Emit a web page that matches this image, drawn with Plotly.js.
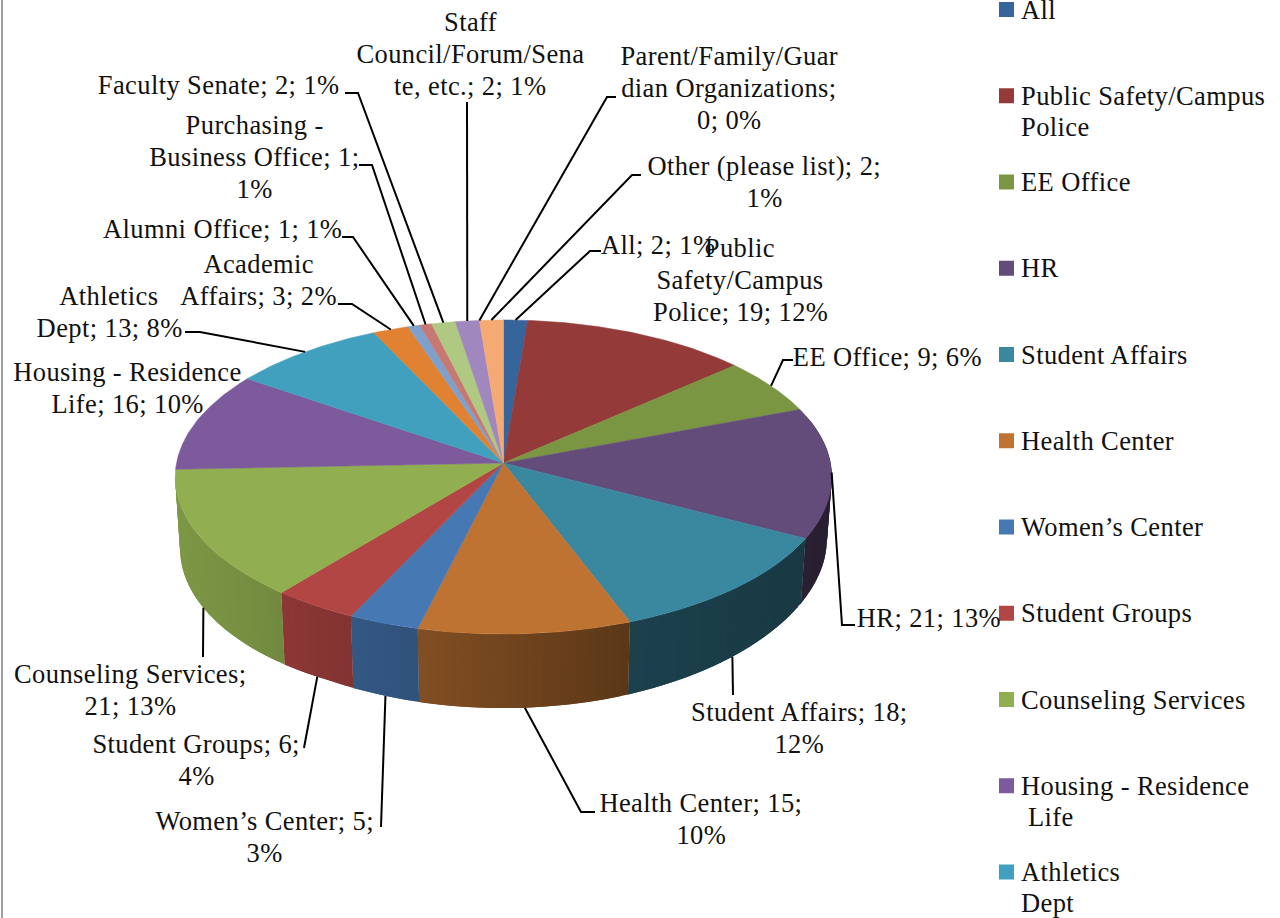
<!DOCTYPE html>
<html><head><meta charset="utf-8">
<script src="https://cdn.plot.ly/plotly-3.0.1.min.js"></script>
<style>
html,body{margin:0;padding:0;background:#fff;overflow:hidden}
#chart{width:1280px;height:918px}
.annotation text{letter-spacing:0.4px}
</style></head><body><div id="chart"></div>
<script>
// ---------- data ----------
const categories = ["All","Public Safety/Campus Police","EE Office","HR","Student Affairs","Health Center","Women’s Center","Student Groups","Counseling Services","Housing - Residence Life","Athletics Dept","Academic Affairs","Alumni Office","Purchasing - Business Office","Faculty Senate","Staff Council/Forum/Senate, etc.","Parent/Family/Guardian Organizations","Other (please list)"];
const values = [2,19,9,21,18,15,5,6,21,16,13,3,1,1,2,2,0,2];
const colors = ["#36659c","#943b39","#7a9643","#634b7a","#3a87a0","#be7332","#4678b4","#b24644","#91af50","#7d5a9b","#41a0be","#e18232","#7da0cd","#c87873","#afc882","#a087be","#6eb9cd","#f5aa73"];
const legendNames = ["All","Public Safety/Campus<br>Police","EE Office","HR","Student Affairs","Health Center","Women’s Center","Student Groups","Counseling Services","Housing - Residence<br>\u00a0Life","Athletics<br>Dept"];
const labelTexts = ["All; 2; 1%","Public<br>Safety/Campus<br>Police; 19; 12%","EE Office; 9; 6%","HR; 21; 13%","Student Affairs; 18;<br>12%","Health Center; 15;<br>10%","Women’s Center; 5;<br>3%","Student Groups; 6;<br>4%","Counseling Services;<br>21; 13%","Housing - Residence<br>Life; 16; 10%","Athletics<br>Dept; 13; 8%","Academic<br>Affairs; 3; 2%","Alumni Office; 1; 1%","Purchasing -<br>Business Office; 1;<br>1%","Faculty Senate; 2; 1%","Staff<br>Council/Forum/Sena<br>te, etc.; 2; 1%","Parent/Family/Guar<br>dian Organizations;<br>0; 0%","Other (please list); 2;<br>1%"];

// ---------- layout of the drawing (pixel space of the hidden axes) ----------
const labelPos = [[658,245],[740,280],[887,357],[929,618],[799,728],[701,819],[264,837],[196,760],[130,690],[127,388],[109,312],[258,280],[222,229],[254,157],[218,85],[470,54],[729,88],[764,182]];
const leaders = {0:{p:[[590,251],[601,251]]},2:{p:[[783,360],[793,360]]},3:{p:[[842,625],[855,625]]},
 4:{p:[[733,695]],b:1},5:{p:[[581,812],[595,812]],b:1},6:{p:[[381,827]],b:1},7:{p:[[304,748]],b:1},8:{p:[[203,657]],b:1},
 10:{p:[[200,332],[185,332]]},11:{p:[[352,304],[338,304]]},12:{p:[[353,237],[342,237]]},13:{p:[[372,165],[359,165]]},
 14:{p:[[358,93],[345,93]]},15:{p:[[467,102]]},16:{p:[[607,97],[616,97]]},17:{p:[[632,175],[641,175]]}};
const CX=503.5, CY=463, R=327, A=155.8, K=0.0892, LINE=31.6;

// ---------- projection of the tilted disc ----------
function rimTop(f){const t=2*Math.PI*f, X=Math.sin(t), Y=Math.cos(t), s=1/(1+K*Y);
  return [CX+R*X*s, CY-A*Y*s];}
function rimBottom(f){const t=2*Math.PI*f, X=Math.sin(t), Y=Math.cos(t), p=rimTop(f);
  return [CX+(p[0]-CX)*0.985, p[1]+62+12*Y*Y+20*Math.max(0,-X-0.5)];}
function shadeAt(f){const X=Math.sin(2*Math.PI*f);
  const xs=[-1,-0.6,-0.3,0,0.36,1], ss=[0.87,0.78,0.70,0.60,0.48,0.41];
  for(let i=0;i<xs.length-1;i++) if(X<=xs[i+1]) return ss[i]+(ss[i+1]-ss[i])*(X-xs[i])/(xs[i+1]-xs[i]);
  return 0.41;}
function dark(hex,k){const n=parseInt(hex.slice(1),16);
  return `rgb(${Math.round((n>>16)*k)},${Math.round(((n>>8)&255)*k)},${Math.round((n&255)*k)})`;}

const total = values.reduce((a,b)=>a+b,0);
const cum=[0]; values.forEach(v=>cum.push(cum[cum.length-1]+v));
const traces=[];
const STEP=1/360*1.5;

// side walls: overlapping strips so the gradient stays seamless
values.forEach((v,i)=>{
  const a=Math.max(cum[i]/total,0.2), b=Math.min(cum[i+1]/total,0.74);
  if(b<=a) return;
  const n=Math.ceil((b-a)/STEP);
  for(let j=0;j<n;j++){
    const f0=a+(b-a)*j/n, f1=Math.min(b,a+(b-a)*(j+2)/n);
    const p=[rimTop(f0),rimTop(f1),rimBottom(f1),rimBottom(f0),rimTop(f0)];
    const c=dark(colors[i],shadeAt(a+(b-a)*(j+0.5)/n));
    traces.push({type:"scatter",mode:"lines",x:p.map(q=>q[0]),y:p.map(q=>q[1]),fill:"toself",fillcolor:c,
      line:{width:0},hoverinfo:"skip",showlegend:false});
  }
});
// top face
values.forEach((v,i)=>{
  if(v===0) return;
  const a=cum[i]/total,b=cum[i+1]/total,n=Math.max(3,Math.ceil((b-a)/(STEP/2)));
  const xs=[CX],ys=[CY];
  for(let j=0;j<=n;j++){const p=rimTop(a+(b-a)*j/n);xs.push(p[0]);ys.push(p[1]);}
  xs.push(CX);ys.push(CY);
  traces.push({type:"scatter",mode:"lines",name:categories[i],x:xs,y:ys,fill:"toself",fillcolor:colors[i],
    line:{color:colors[i],width:0.5},text:`${categories[i]}: ${v}`,hoverinfo:"text",showlegend:false});
});
// leader lines
Object.keys(leaders).forEach(k=>{
  const i=+k, L=leaders[k], mid=(cum[i]+cum[i+1])/2/total, s=(L.b?rimBottom:rimTop)(mid), pts=[s].concat(L.p);
  traces.push({type:"scatter",mode:"lines",x:pts.map(q=>q[0]),y:pts.map(q=>q[1]),
    line:{color:"#000",width:2},hoverinfo:"skip",showlegend:false});
});
// legend keys
const keyY=legendNames.map((_,i)=>9.5+i*86.25);
traces.push({type:"scatter",mode:"markers",x:legendNames.map(()=>1006.5),y:keyY,
  marker:{symbol:"square",size:15,color:colors.slice(0,legendNames.length),line:{width:0}},hoverinfo:"skip",showlegend:false});

const FONT={family:"Liberation Serif, serif",size:26.5,color:"#111"};
const annotations=[];
labelTexts.forEach((t,i)=>{
  const lines=t.split("<br>");
  lines.forEach((s,k)=>annotations.push({text:s,x:labelPos[i][0],y:labelPos[i][1]+(k-(lines.length-1)/2)*LINE,
    xref:"x",yref:"y",showarrow:false,xanchor:"center",yanchor:"middle",align:"center",font:FONT}));
});
legendNames.forEach((t,i)=>{
  t.split("<br>").forEach((s,k)=>annotations.push({text:s,x:1018.5,y:keyY[i]+k*31,
    xref:"x",yref:"y",showarrow:false,xanchor:"left",yanchor:"middle",align:"left",font:FONT}));
});

const layout={width:1280,height:918,margin:{l:0,r:0,t:0,b:0},paper_bgcolor:"#fff",plot_bgcolor:"#fff",showlegend:false,
  xaxis:{range:[0,1280],visible:false,fixedrange:true},yaxis:{range:[918,0],visible:false,fixedrange:true},
  annotations,
  shapes:[{type:"line",xref:"x",yref:"y",x0:2,x1:2,y0:0,y1:918,line:{color:"#a0a0a0",width:2}}]};
Plotly.newPlot("chart",traces,layout,{displayModeBar:false,staticPlot:true});
</script></body></html>
